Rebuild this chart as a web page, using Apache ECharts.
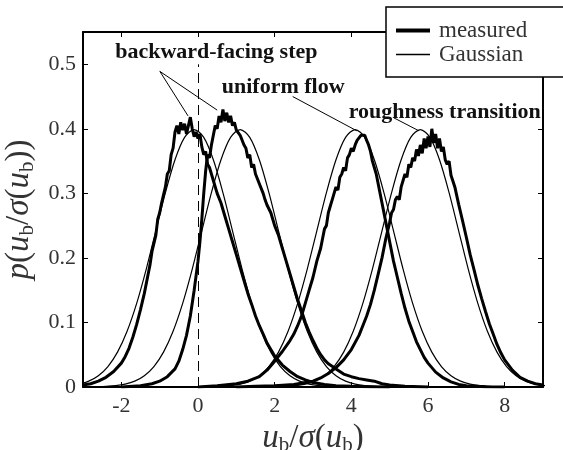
<!DOCTYPE html>
<html><head><meta charset="utf-8">
<script src="https://cdn.jsdelivr.net/npm/echarts@6/dist/echarts.min.js"></script>
<style>html,body{margin:0;padding:0;background:#fff}#c{width:563px;height:450px}</style>
</head><body><div id="c"></div>
<script>
// ---- axis ticks ----
const xTicks = [-2, 0, 2, 4, 6, 8];
const yTicks = [0, 0.1, 0.2, 0.3, 0.4, 0.5];

// ---- Gaussian (unit variance) profile ----
const gaussOffset = [-4, -3.75, -3.5, -3.25, -3, -2.75, -2.5, -2.25, -2, -1.75, -1.5, -1.25, -1, -0.75, -0.5, -0.25, 0,
  0.25, 0.5, 0.75, 1, 1.25, 1.5, 1.75, 2, 2.25, 2.5, 2.75, 3, 3.25, 3.5, 3.75, 4];
const gaussDensity = [0.0001, 0.0004, 0.0009, 0.0020, 0.0044, 0.0091, 0.0175, 0.0317, 0.0540, 0.0863, 0.1295, 0.1826, 0.2420, 0.3011, 0.3521, 0.3867, 0.3989,
  0.3867, 0.3521, 0.3011, 0.2420, 0.1826, 0.1295, 0.0863, 0.0540, 0.0317, 0.0175, 0.0091, 0.0044, 0.0020, 0.0009, 0.0004, 0.0001];
const gaussMeans = [-0.1, 1.1, 4.1, 5.8];

// ---- measured PDFs ----
const measuredStepA = [[-3.0,0.003],[-2.8,0.005],[-2.6,0.009],[-2.4,0.015],[-2.2,0.024],[-2.0,0.037],[-1.9,0.047],[-1.8,0.06],[-1.7,0.077],[-1.6,0.097],[-1.5,0.12],[-1.4,0.145],[-1.3,0.175],[-1.25,0.19],[-1.2,0.21],[-1.15,0.212],[-1.1,0.235],[-1.05,0.26],[-1.0,0.27],[-0.95,0.285],[-0.9,0.288],[-0.85,0.31],[-0.8,0.33],[-0.75,0.335],[-0.7,0.36],[-0.65,0.37],[-0.6,0.395],[-0.55,0.405],[-0.5,0.392],[-0.45,0.41],[-0.4,0.398],[-0.35,0.408],[-0.3,0.392],[-0.25,0.405],[-0.2,0.418],[-0.15,0.40],[-0.1,0.388],[-0.05,0.395],[0.0,0.385],[0.05,0.392],[0.1,0.372],[0.15,0.36],[0.2,0.365],[0.25,0.345],[0.3,0.34],[0.4,0.32],[0.5,0.30],[0.6,0.285],[0.7,0.265],[0.8,0.245],[0.9,0.225],[1.0,0.205],[1.1,0.185],[1.2,0.165],[1.3,0.145],[1.4,0.128],[1.5,0.11],[1.6,0.095],[1.7,0.082],[1.8,0.068],[1.9,0.058],[2.0,0.048],[2.2,0.034],[2.4,0.024],[2.6,0.016],[2.8,0.011],[3.0,0.007],[3.3,0.004],[3.6,0.002],[4.0,0.001],[4.5,0.0005],[5.0,0]];
const measuredStepB = [[-2.0,0],[-1.5,0.002],[-1.2,0.005],[-1.0,0.009],[-0.8,0.016],[-0.6,0.028],[-0.5,0.04],[-0.4,0.058],[-0.3,0.08],[-0.2,0.11],[-0.1,0.15],[0.0,0.195],[0.05,0.225],[0.1,0.26],[0.15,0.30],[0.2,0.335],[0.25,0.36],[0.3,0.355],[0.35,0.375],[0.4,0.39],[0.45,0.405],[0.5,0.40],[0.55,0.42],[0.6,0.41],[0.65,0.43],[0.7,0.412],[0.75,0.425],[0.8,0.41],[0.85,0.42],[0.9,0.405],[0.95,0.41],[1.0,0.398],[1.05,0.40],[1.1,0.39],[1.15,0.392],[1.2,0.375],[1.25,0.37],[1.3,0.355],[1.35,0.36],[1.4,0.34],[1.45,0.345],[1.5,0.33],[1.6,0.315],[1.7,0.30],[1.75,0.29],[1.8,0.282],[1.9,0.27],[2.0,0.25],[2.1,0.235],[2.2,0.215],[2.3,0.195],[2.4,0.175],[2.5,0.155],[2.6,0.135],[2.7,0.118],[2.8,0.10],[2.9,0.085],[3.0,0.072],[3.1,0.06],[3.2,0.05],[3.3,0.042],[3.4,0.036],[3.5,0.032],[3.6,0.028],[3.7,0.024],[3.8,0.02],[4.0,0.016],[4.2,0.013],[4.4,0.011],[4.6,0.009],[4.8,0.005],[5.0,0.003],[5.4,0.001],[6.0,0]];
const measuredUniform = [[0.0,0],[0.5,0.002],[1.0,0.005],[1.3,0.009],[1.6,0.016],[1.8,0.026],[2.0,0.04],[2.2,0.055],[2.4,0.072],[2.5,0.082],[2.6,0.095],[2.7,0.11],[2.8,0.13],[2.9,0.15],[3.0,0.17],[3.1,0.195],[3.2,0.215],[3.25,0.23],[3.3,0.245],[3.35,0.25],[3.4,0.27],[3.45,0.28],[3.5,0.29],[3.55,0.30],[3.6,0.31],[3.65,0.305],[3.7,0.325],[3.75,0.33],[3.8,0.34],[3.85,0.335],[3.9,0.355],[3.95,0.36],[4.0,0.37],[4.05,0.365],[4.1,0.375],[4.15,0.382],[4.2,0.38],[4.25,0.39],[4.3,0.388],[4.35,0.39],[4.4,0.382],[4.45,0.375],[4.5,0.365],[4.55,0.35],[4.6,0.34],[4.65,0.33],[4.7,0.315],[4.8,0.285],[4.9,0.255],[5.0,0.225],[5.1,0.195],[5.2,0.17],[5.3,0.145],[5.4,0.122],[5.5,0.102],[5.6,0.086],[5.7,0.07],[5.8,0.058],[5.9,0.046],[6.0,0.037],[6.2,0.023],[6.4,0.014],[6.6,0.008],[6.8,0.004],[7.0,0.002],[7.5,0.0005],[8.0,0]];
const measuredRough = [[1.0,0],[1.5,0.001],[2.0,0.002],[2.5,0.004],[3.0,0.009],[3.2,0.014],[3.4,0.021],[3.6,0.03],[3.8,0.042],[4.0,0.058],[4.2,0.08],[4.3,0.095],[4.4,0.11],[4.5,0.128],[4.6,0.15],[4.7,0.175],[4.8,0.20],[4.9,0.23],[5.0,0.255],[5.05,0.27],[5.1,0.275],[5.15,0.29],[5.2,0.295],[5.25,0.29],[5.3,0.31],[5.35,0.32],[5.4,0.33],[5.45,0.325],[5.5,0.345],[5.55,0.34],[5.6,0.355],[5.65,0.35],[5.7,0.368],[5.75,0.358],[5.8,0.375],[5.85,0.362],[5.9,0.385],[5.95,0.37],[6.0,0.388],[6.05,0.372],[6.1,0.40],[6.15,0.378],[6.2,0.392],[6.25,0.37],[6.3,0.385],[6.35,0.365],[6.4,0.372],[6.45,0.352],[6.5,0.345],[6.55,0.35],[6.6,0.328],[6.7,0.31],[6.8,0.283],[6.9,0.258],[7.0,0.232],[7.1,0.205],[7.2,0.182],[7.3,0.158],[7.4,0.137],[7.5,0.117],[7.6,0.098],[7.7,0.082],[7.8,0.066],[7.9,0.053],[8.0,0.042],[8.2,0.026],[8.4,0.015],[8.6,0.009],[8.8,0.005],[9.0,0.003]];

// ---- annotations (data coordinates) ----
const annotationLabels = ['backward-facing step', 'uniform flow', 'roughness transition'];
const annotationAnchors = [[-2.16, 0.518], [0.62, 0.464], [3.93, 0.426]];
const leaderLines = [
  [[-0.995, 0.489], [-0.26, 0.42]],
  [[-0.995, 0.489], [0.50, 0.429]],
  [[2.47, 0.45], [4.14, 0.397]],
  [[5.11, 0.417], [5.76, 0.397]]
];
const referenceLineX = 0;
const referenceLineTop = 0.5;

const serif = 'Liberation Serif';
const labelColor = '#333';

const measuredSets = [measuredStepA, measuredStepB, measuredUniform, measuredRough];
const series = [];
measuredSets.forEach(d => series.push({
  name: 'measured', type: 'line', data: d, showSymbol: false, symbol: 'none',
  lineStyle: { color: '#000', width: 3 }, itemStyle: { color: '#000' }, z: 3, animation: false
}));
gaussMeans.forEach(m => series.push({
  name: 'Gaussian', type: 'line', smooth: 0.3,
  data: gaussOffset.map((o, i) => [m + o, gaussDensity[i]]),
  showSymbol: false, symbol: 'none',
  lineStyle: { color: '#000', width: 1.2 }, itemStyle: { color: '#000' }, z: 4, animation: false
}));
// annotation carrier
series.push({
  name: 'annot', type: 'scatter', data: [], animation: false, silent: true,
  markLine: {
    silent: true, symbol: ['none', 'none'], animation: false,
    label: { show: false },
    lineStyle: { color: '#000', width: 1, type: 'solid' },
    data: leaderLines.map(l => [{ coord: l[0] }, { coord: l[1] }]).concat([
      [{ coord: [referenceLineX, 0], lineStyle: { type: [10, 6], width: 1 } }, { coord: [referenceLineX, referenceLineTop] }]
    ])
  },
  markPoint: {
    silent: true, animation: false, symbol: 'circle', symbolSize: 0,
    label: {
      show: true, position: 'right', distance: 0,
      fontFamily: serif, fontWeight: 'bold', fontSize: 22, color: '#111',
      formatter: p => p.name
    },
    data: annotationLabels.map((t, i) => ({ name: t, coord: annotationAnchors[i] }))
  }
});

const richName = {
  i: { fontFamily: serif, fontStyle: 'italic', fontSize: 33, color: labelColor, lineHeight: 36 },
  n: { fontFamily: serif, fontSize: 33, color: labelColor, lineHeight: 36 },
  s: { fontFamily: serif, fontSize: 21, color: labelColor, lineHeight: 21, verticalAlign: 'bottom' }
};

const chart = echarts.init(document.getElementById('c'), null, { renderer: 'canvas' });
chart.setOption({
  backgroundColor: '#fff',
  animation: false,
  grid: { left: 83, right: 20, top: 32, bottom: 63, outerBoundsMode: 'none', containLabel: false },
  legend: {
    data: [
      { name: 'measured', lineStyle: { width: 4 } },
      { name: 'Gaussian', lineStyle: { width: 1.5 } }
    ],
    orient: 'vertical', left: 386, top: 7,
    padding: [12, 60, 11, 8], itemGap: 1, itemWidth: 34, itemHeight: 14,
    itemStyle: { opacity: 0, borderWidth: 0 },
    backgroundColor: '#fff', borderColor: '#000', borderWidth: 1.5,
    textStyle: { fontFamily: serif, fontSize: 23, lineHeight: 20, color: labelColor, padding: [0, 0, 0, 4] },
    selectedMode: false, z: 10
  },
  xAxis: [{
    type: 'value', min: -3, max: 9, position: 'bottom',
    name: '{i|u}{s|b}{n|/}{i|σ}{n|(}{i|u}{s|b}{n|)}', nameLocation: 'middle', nameGap: 25,
    nameTextStyle: { rich: richName },
    axisLine: { onZero: false, lineStyle: { color: '#000', width: 2 } },
    axisTick: { inside: true, length: 5, customValues: xTicks, lineStyle: { color: '#000' } },
    axisLabel: { customValues: xTicks, margin: 8, fontFamily: serif, fontSize: 22, color: labelColor },
    splitLine: { show: false }
  }, {
    type: 'value', min: -3, max: 9, position: 'top',
    axisLine: { onZero: false, lineStyle: { color: '#000', width: 2 } },
    axisTick: { inside: true, length: 5, customValues: xTicks, lineStyle: { color: '#000' } },
    axisLabel: { show: false }, splitLine: { show: false }
  }],
  yAxis: [{
    type: 'value', min: 0, max: 0.55, position: 'left',
    name: '{i|p}{n|(}{i|u}{s|b}{n|/}{i|σ}{n|(}{i|u}{s|b}{n|))}', nameLocation: 'middle', nameGap: 42,
    nameTextStyle: { rich: richName },
    axisLine: { onZero: false, lineStyle: { color: '#000', width: 2 } },
    axisTick: { inside: true, length: 5, customValues: yTicks, lineStyle: { color: '#000' } },
    axisLabel: { customValues: yTicks, margin: 7, fontFamily: serif, fontSize: 22, color: labelColor,
      formatter: v => String(Math.round(v * 10) / 10) },
    splitLine: { show: false }
  }, {
    type: 'value', min: 0, max: 0.55, position: 'right',
    axisLine: { onZero: false, lineStyle: { color: '#000', width: 2 } },
    axisTick: { inside: true, length: 5, customValues: yTicks, lineStyle: { color: '#000' } },
    axisLabel: { show: false }, splitLine: { show: false }
  }],
  series: series
});
</script></body></html>
